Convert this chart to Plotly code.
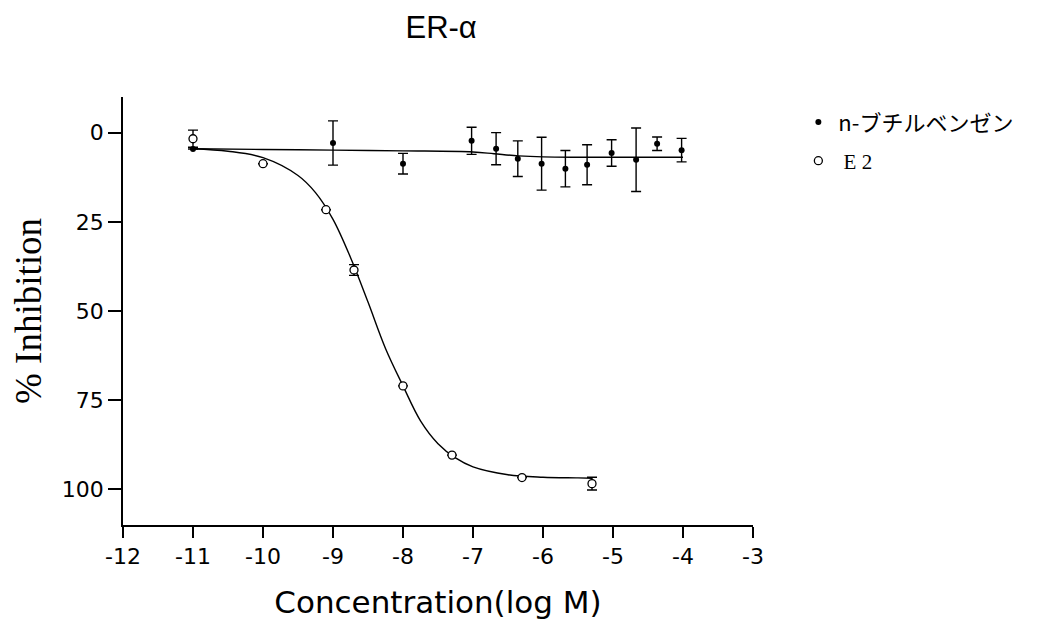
import plotly.graph_objects as go

# n-butylbenzene (filled dots)
nbb_x = [-11.0, -9.0, -8.0, -7.02, -6.67, -6.36, -6.02, -5.68, -5.37, -5.02, -4.67, -4.37, -4.02]
nbb_y = [4.6, 2.9, 8.7, 2.3, 4.5, 7.3, 8.7, 10.1, 9.0, 5.7, 7.6, 3.1, 4.9]
nbb_err = [0.0, 6.2, 2.9, 3.8, 4.5, 5.0, 7.4, 5.1, 5.6, 3.7, 8.9, 1.9, 3.3]

# E2 (open circles)
e2_x = [-11.0, -10.0, -9.1, -8.7, -8.0, -7.3, -6.3, -5.3]
e2_y = [1.7, 8.7, 21.6, 38.5, 71.0, 90.4, 96.7, 98.4]
e2_err = [2.4, 0.0, 0.0, 1.5, 0.0, 0.0, 0.0, 1.8]

# fitted curves
nbb_fit_x = [-11.0, -10.0, -9.0, -8.0, -7.0, -6.7, -6.35, -6.0, -5.5, -5.0, -4.5, -4.0]
nbb_fit_y = [4.5, 4.7, 4.9, 5.1, 5.4, 5.9, 6.5, 6.8, 6.9, 6.9, 6.9, 6.9]

e2_fit_x = [-11.0, -10.5, -10.0, -9.5, -9.25, -9.0, -8.75, -8.5, -8.25, -8.0,
            -7.75, -7.5, -7.25, -7.0, -6.5, -6.0, -5.5, -5.3]
e2_fit_y = [4.5, 5.2, 7.0, 12.0, 16.8, 24.3, 35.0, 47.5, 60.5, 71.0,
            80.8, 87.2, 91.2, 93.7, 95.9, 96.6, 96.8, 96.9]

x_ticks = [-12, -11, -10, -9, -8, -7, -6, -5, -4, -3]
y_ticks = [0, 25, 50, 75, 100]

fig = go.Figure()

fig.add_trace(go.Scatter(x=nbb_fit_x, y=nbb_fit_y, mode="lines", line=dict(color="black", width=1.4, shape="spline"),
                         showlegend=False, hoverinfo="skip"))
fig.add_trace(go.Scatter(x=e2_fit_x, y=e2_fit_y, mode="lines", line=dict(color="black", width=1.4, shape="spline"),
                         showlegend=False, hoverinfo="skip"))

fig.add_trace(go.Scatter(x=nbb_x, y=nbb_y, mode="markers", name="n-ブチルベンゼン", legendgroup="a",
                         marker=dict(color="black", size=6),
                         error_y=dict(type="data", array=nbb_err, color="black", thickness=1.4, width=5)))
fig.add_trace(go.Scatter(x=e2_x, y=e2_y, mode="markers",
                         name='<span style="font-family:Liberation Serif, serif; font-size:21px"> E 2</span>',
                         legendgroup="b",
                         marker=dict(color="white", size=8, line=dict(color="black", width=1.3)),
                         error_y=dict(type="data", array=e2_err, color="black", thickness=1.4, width=5)))

font_main = "Liberation Sans, Arial, sans-serif"
font_tick = "DejaVu Sans, sans-serif"

# the page body adds ~8px offset, so margins are pulled in by that much
fig.update_layout(
    width=1042, height=630,
    margin=dict(l=115, r=297, t=89, b=113),
    paper_bgcolor="white", plot_bgcolor="white",
    font=dict(family=font_main, color="black"),
    title=dict(text="ER-α", x=0.505, xref="paper", xanchor="center", y=0.97, yanchor="middle",
               font=dict(size=31, family=font_main)),
    showlegend=True,
    legend=dict(x=1.072, y=0.99, xanchor="left", yanchor="top", traceorder="grouped", tracegroupgap=7,
                font=dict(size=22, family="Noto Sans CJK JP, sans-serif"), itemwidth=30, bgcolor="rgba(0,0,0,0)"),
)

fig.update_xaxes(range=[-12, -3], tickvals=x_ticks, ticktext=[str(v) for v in x_ticks], automargin=False,
                 showline=True, linecolor="black", linewidth=1.5, ticks="outside", ticklen=11, tickwidth=1.5,
                 tickcolor="black", showgrid=False, zeroline=False, tickfont=dict(size=22, family=font_tick),
                 title=dict(text="Concentration(log M)", font=dict(size=31, family=font_tick), standoff=23))
fig.update_yaxes(range=[110, -10], tickvals=y_ticks, showline=True, linecolor="black", linewidth=1.5, automargin=False,
                 ticks="outside", ticklen=13, tickwidth=1.5, tickcolor="black", showgrid=False, zeroline=False,
                 tickfont=dict(size=22, family=font_tick),
                 title=dict(text="% Inhibition", font=dict(size=37, family="Liberation Serif, serif"), standoff=12))

fig.write_html("out.html")
